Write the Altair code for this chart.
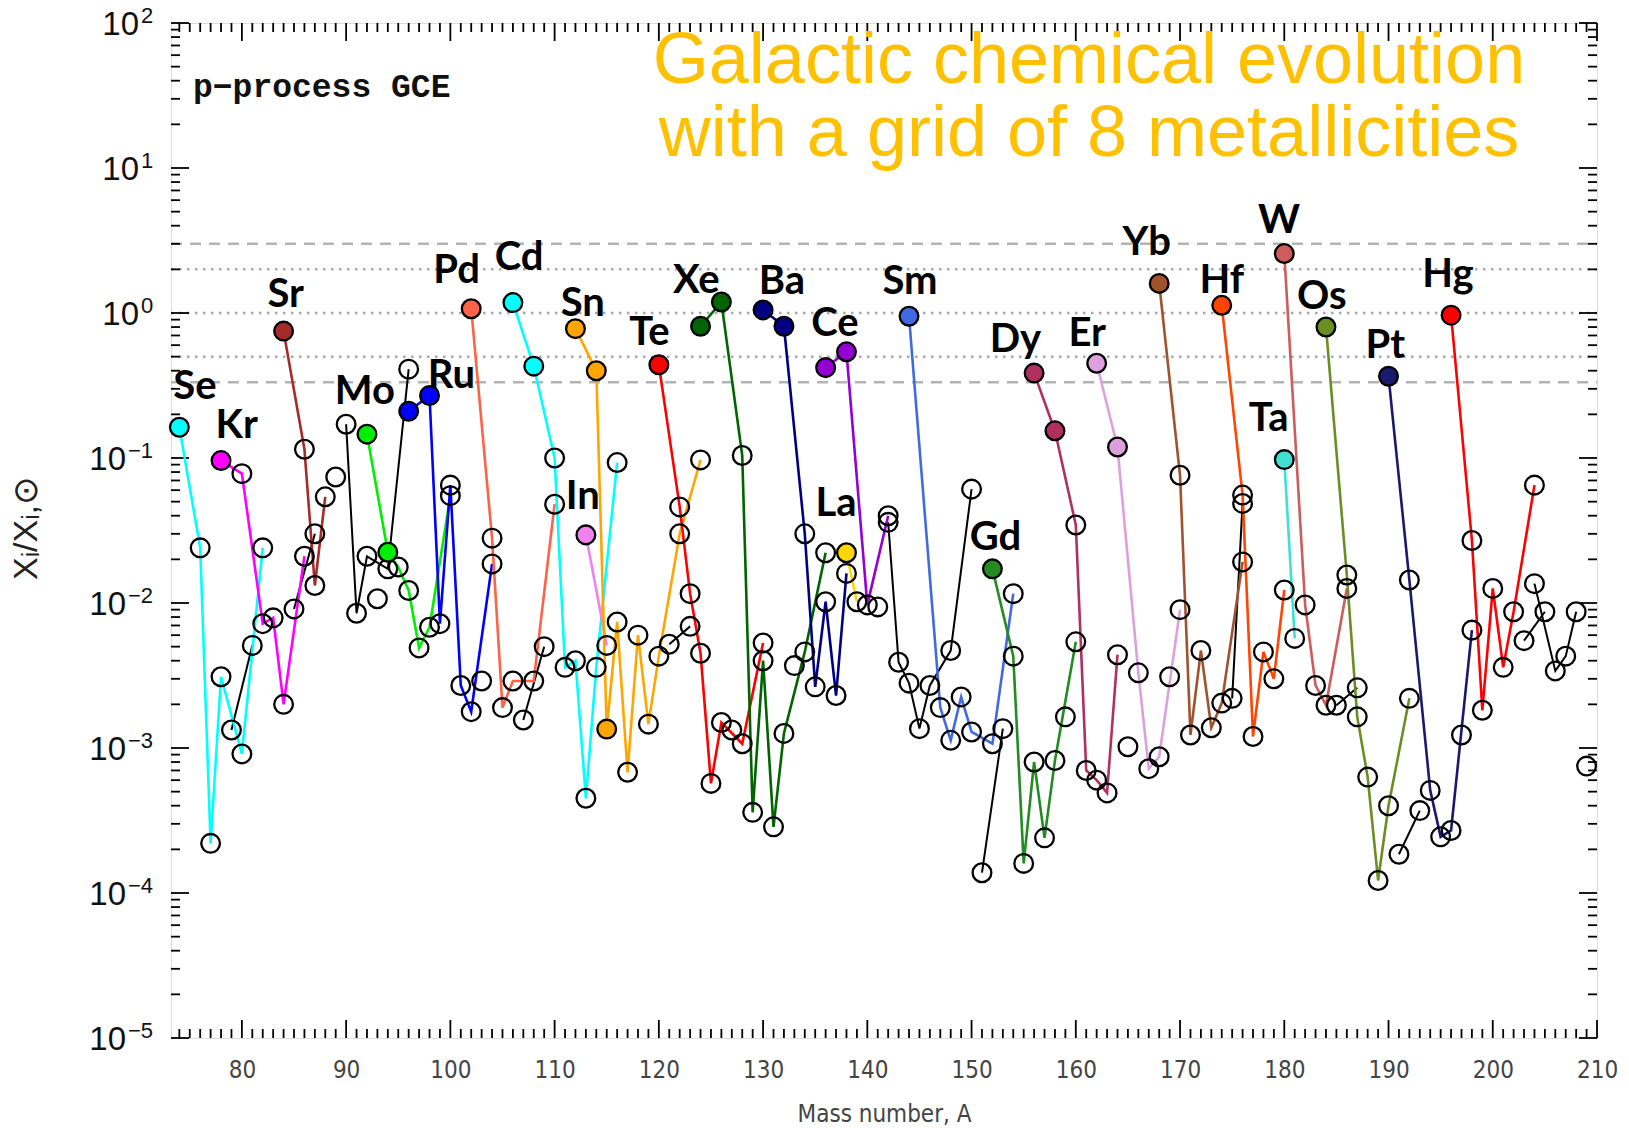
import altair as alt
import pandas as pd

# ---- isotopic ratios X_i / X_i,sun versus mass number, one list per element ----
Se = [(74, 0.163), (76, 0.024), (77, 0.00022), (78, 0.0031), (80, 0.00091), (82, 0.024)]
Br = [(79, 0.00133), (81, 0.0051)]
Kr = [(78, 0.096), (80, 0.078), (82, 0.0072), (83, 0.0079), (84, 0.0020), (86, 0.021)]
Rb = [(85, 0.0091), (87, 0.030)]
Sr = [(84, 0.75), (86, 0.115), (87, 0.0132), (88, 0.054)]
Y = [(89, 0.074)]
Zr = [(90, 0.171), (91, 0.0085), (92, 0.021), (94, 0.0172), (96, 0.41)]
Nb = [(93, 0.0107)]
Mo = [(92, 0.146), (94, 0.0224), (95, 0.0177), (96, 0.0122), (97, 0.0049), (98, 0.0068), (100, 0.055)]
Ru = [(96, 0.21), (98, 0.27), (99, 0.0072), (100, 0.065), (101, 0.0027), (102, 0.00178), (104, 0.0186)]
Rh = [(103, 0.0029)]
Pd = [(102, 1.07), (104, 0.028), (105, 0.0019), (106, 0.0029), (108, 0.0029), (110, 0.048)]
Ag = [(107, 0.00156), (109, 0.0050)]
Cd = [(106, 1.18), (108, 0.43), (110, 0.10), (111, 0.0036), (112, 0.0040), (113, 0.00045), (114, 0.0036), (116, 0.093)]
In = [(113, 0.0295), (115, 0.0051)]
Sn = [(112, 0.78), (114, 0.40), (115, 0.00135), (116, 0.0074), (117, 0.00068), (118, 0.0060), (119, 0.00146),
      (120, 0.0043), (122, 0.030), (124, 0.097)]
Sb = [(121, 0.0052), (123, 0.0069)]
Te = [(120, 0.44), (122, 0.046), (123, 0.0116), (124, 0.0045), (125, 0.00057), (126, 0.0015), (128, 0.00107), (130, 0.0053)]
I = [(127, 0.00133)]
Xe = [(124, 0.81), (126, 1.19), (128, 0.104), (129, 0.00036), (130, 0.0040), (131, 0.000286), (132, 0.00126),
      (134, 0.0046), (136, 0.0222)]
Cs = [(133, 0.0037)]
Ba = [(130, 1.05), (132, 0.81), (134, 0.030), (135, 0.00264), (136, 0.0102), (137, 0.0023), (138, 0.016)]
La = [(138, 0.0222), (139, 0.0102)]
Ce = [(136, 0.42), (138, 0.54), (140, 0.0097), (142, 0.040)]
Pr = [(141, 0.0094)]
Nd = [(142, 0.036), (143, 0.0039), (144, 0.0028), (145, 0.00136), (146, 0.0027), (148, 0.0047), (150, 0.061)]
Sm = [(144, 0.95), (147, 0.0019), (148, 0.00113), (149, 0.00225), (150, 0.00129), (152, 0.00107), (154, 0.0116)]
Eu = [(151, 0.000138), (153, 0.00136)]
Gd = [(152, 0.0172), (154, 0.0043), (155, 0.00016), (156, 0.0008), (157, 0.00024), (158, 0.00082), (160, 0.0054)]
Tb = [(159, 0.00164)]
Dy = [(156, 0.385), (158, 0.154), (160, 0.0345), (161, 0.0007), (162, 0.0006), (163, 0.00049), (164, 0.0044)]
Ho = [(165, 0.00102)]
Er = [(162, 0.45), (164, 0.119), (166, 0.0033), (167, 0.00072), (168, 0.00087), (170, 0.0090)]
Tm = [(169, 0.0031)]
Yb = [(168, 1.6), (170, 0.076), (171, 0.00123), (172, 0.0047), (173, 0.00138), (174, 0.00204), (176, 0.0192)]
Lu = [(175, 0.0022), (176, 0.0486)]
Hf = [(174, 1.13), (176, 0.0555), (177, 0.0012), (178, 0.0046), (179, 0.0030), (180, 0.0123)]
Ta = [(180, 0.0975), (181, 0.0057)]
W = [(180, 2.57), (182, 0.0097), (183, 0.0027), (184, 0.00197), (186, 0.0126)]
Re = [(185, 0.00197), (187, 0.0026)]
Os = [(184, 0.80), (186, 0.0156), (187, 0.00164), (188, 0.00063), (189, 0.000122), (190, 0.00040), (192, 0.0022)]
Ir = [(191, 0.000185), (193, 0.00037)]
Pt = [(190, 0.366), (192, 0.0144), (194, 0.00051), (195, 0.000244), (196, 0.00027), (198, 0.0065)]
Au = [(197, 0.00123)]
Hg = [(196, 0.966), (198, 0.027), (199, 0.00182), (200, 0.0126), (201, 0.0036), (202, 0.0087), (204, 0.065)]
Tl = [(203, 0.0055), (205, 0.0087)]
Pb = [(204, 0.0136), (206, 0.0034), (207, 0.0043), (208, 0.0087)]
Bi = [(209, 0.00075)]

ELEMENTS = [
    ("Se", Se), ("Br", Br), ("Kr", Kr), ("Rb", Rb), ("Sr", Sr), ("Y", Y), ("Zr", Zr), ("Nb", Nb),
    ("Mo", Mo), ("Ru", Ru), ("Rh", Rh), ("Pd", Pd), ("Ag", Ag), ("Cd", Cd), ("In", In), ("Sn", Sn),
    ("Sb", Sb), ("Te", Te), ("I", I), ("Xe", Xe), ("Cs", Cs), ("Ba", Ba), ("La", La), ("Ce", Ce),
    ("Pr", Pr), ("Nd", Nd), ("Sm", Sm), ("Eu", Eu), ("Gd", Gd), ("Tb", Tb), ("Dy", Dy), ("Ho", Ho),
    ("Er", Er), ("Tm", Tm), ("Yb", Yb), ("Lu", Lu), ("Hf", Hf), ("Ta", Ta), ("W", W), ("Re", Re),
    ("Os", Os), ("Ir", Ir), ("Pt", Pt), ("Au", Au), ("Hg", Hg), ("Tl", Tl), ("Pb", Pb), ("Bi", Bi),
]

# p-only isotopes (filled symbols) and the colour of their element
P_NUCLEI = {
    "Se": [74], "Kr": [78], "Sr": [84], "Mo": [92, 94], "Ru": [96, 98], "Pd": [102], "Cd": [106, 108],
    "In": [113], "Sn": [112, 114, 115], "Te": [120], "Xe": [124, 126], "Ba": [130, 132], "La": [138],
    "Ce": [136, 138], "Sm": [144], "Gd": [152], "Dy": [156, 158], "Er": [162, 164], "Yb": [168],
    "Hf": [174], "Ta": [180], "W": [180], "Os": [184], "Pt": [190], "Hg": [196],
}
COLORS = {
    "Se": "#00ffff", "Kr": "#ff00ff", "Sr": "#a52a2a", "Mo": "#00ee00", "Ru": "#0000ff", "Pd": "#ff6347",
    "Cd": "#00ffff", "In": "#ee82ee", "Sn": "#ffa500", "Te": "#ff0000", "Xe": "#006400", "Ba": "#000080",
    "La": "#ffd700", "Ce": "#9400d3", "Sm": "#4169e1", "Gd": "#228b22", "Dy": "#b03060", "Er": "#dda0dd",
    "Yb": "#a0522d", "Hf": "#ff4500", "Ta": "#40e0d0", "W": "#cd5c5c", "Os": "#6b8e23", "Pt": "#191970",
    "Hg": "#ff0000",
}

# element labels: name, mass number and ratio where the label sits
LABEL_EL = ["Se", "Kr", "Sr", "Mo", "Ru", "Pd", "Cd", "Sn", "In", "Te", "Xe", "Ba", "Ce", "La", "Sm",
            "Gd", "Dy", "Er", "Yb", "Hf", "W", "Ta", "Os", "Pt", "Hg"]
LABEL_A = [75.5, 79.5, 84.2, 91.8, 100.1, 100.6, 106.6, 112.7, 112.7, 119.1, 123.6, 131.8, 136.9, 137.0,
           144.1, 152.3, 154.2, 161.1, 166.8, 174.0, 179.5, 178.5, 183.6, 189.7, 195.7]
LABEL_Y = [0.31, 0.166, 1.33, 0.286, 0.366, 1.94, 2.4, 1.15, 0.054, 0.73, 1.67, 1.64, 0.84, 0.048,
           1.64, 0.028, 0.65, 0.72, 3.03, 1.67, 4.28, 0.187, 1.28, 0.59, 1.82]

DASHED_LEVELS = [3.0, 1.0 / 3.0]
DOTTED_LEVELS = [2.0, 1.0, 0.5]

X_TICKS = list(range(80, 211, 10))
DECADES = [1e-5, 1e-4, 1e-3, 1e-2, 1e-1, 1e0, 1e1, 1e2]
DECADE_EXP = ["\u22125", "\u22124", "\u22123", "\u22122", "\u22121", "0", "1", "2"]

W_PLOT, H_PLOT = 1426, 1015
NARROW = "DejaVu Sans Condensed, Roboto, Liberation Sans, sans-serif"

# ---- tables ----
rows = []
for name, iso in ELEMENTS:
    for a, r in iso:
        rows.append({"el": name, "A": a, "X": r, "p": a in P_NUCLEI.get(name, [])})
df = pd.DataFrame(rows)
multi = df.groupby("el")["A"].transform("count") > 1
lines_black = df[multi & ~df["el"].isin(list(COLORS))]
lines_col = df[multi & df["el"].isin(list(COLORS))]
open_pts = df[~df["p"]]
filled_pts = df[df["p"]]

labels = pd.DataFrame({"el": LABEL_EL, "A": LABEL_A, "X": LABEL_Y})
dec = pd.DataFrame({"X": DECADES, "e": DECADE_EXP})
dec_neg = dec[dec["X"] < 1]
dec_pos = dec[dec["X"] >= 1]

x_minor = pd.DataFrame({"A": [a for a in range(74, 210) if a % 10]})
x_major = pd.DataFrame({"A": X_TICKS})
y_major = pd.DataFrame({"X": DECADES})
y_minor = pd.DataFrame({"X": [m * 10.0 ** k for k in range(-5, 2) for m in range(2, 10)]})

cdom = list(COLORS)
crng = [COLORS[k] for k in cdom]

xs = alt.Scale(domain=[73.2, 210], nice=False, zero=False)
ys = alt.Scale(type="log", domain=[1e-5, 1e2], nice=False)

X = alt.X("A:Q", scale=xs, axis=alt.Axis(
    values=X_TICKS, ticks=False, domain=False, grid=False, labelFlush=False, labelOverlap=False,
    labelFont=NARROW, labelFontSize=24, labelColor="#444444", labelPadding=20,
    title="Mass number, A", titleFont=NARROW, titleFontSize=24, titleFontWeight="normal",
    titleColor="#444444", titleY=76, titleBaseline="middle"))
Yenc = alt.Y("X:Q", scale=ys, axis=alt.Axis(
    labels=False, ticks=False, domain=False, grid=False,
    title="X\u1d62/X\u1d62,\u2299", titleFont="Liberation Sans", titleFontSize=34, titleFontWeight="normal",
    titleColor="#222222", titleX=-145, titleY=505, titleBaseline="middle", titleAngle=270))

base_x = alt.X("A:Q", scale=xs)
base_y = alt.Y("X:Q", scale=ys)

# reference levels
dashed = alt.Chart(pd.DataFrame({"X": DASHED_LEVELS})).mark_rule(
    color="#b3b3b3", strokeWidth=2.5, strokeDash=[11, 8]).encode(
    y=base_y, x=alt.value(0), x2=alt.value(W_PLOT))
dotted = alt.Chart(pd.DataFrame({"X": DOTTED_LEVELS})).mark_rule(
    color="#a8a8a8", strokeWidth=2.5, strokeDash=[2.5, 5.5]).encode(
    y=base_y, x=alt.value(0), x2=alt.value(W_PLOT))

# inward ticks on all four sides
tk = dict(color="black", strokeWidth=1.8)
xt_bot_min = alt.Chart(x_minor).mark_rule(**tk).encode(x=base_x, y=alt.value(H_PLOT), y2=alt.value(H_PLOT - 9))
xt_top_min = alt.Chart(x_minor).mark_rule(**tk).encode(x=base_x, y=alt.value(0), y2=alt.value(9))
xt_bot_maj = alt.Chart(x_major).mark_rule(**tk).encode(x=base_x, y=alt.value(H_PLOT), y2=alt.value(H_PLOT - 18))
xt_top_maj = alt.Chart(x_major).mark_rule(**tk).encode(x=base_x, y=alt.value(0), y2=alt.value(18))
yt_l_min = alt.Chart(y_minor).mark_rule(**tk).encode(y=base_y, x=alt.value(0), x2=alt.value(9))
yt_r_min = alt.Chart(y_minor).mark_rule(**tk).encode(y=base_y, x=alt.value(W_PLOT), x2=alt.value(W_PLOT - 9))
yt_l_maj = alt.Chart(y_major).mark_rule(**tk).encode(y=base_y, x=alt.value(0), x2=alt.value(18))
yt_r_maj = alt.Chart(y_major).mark_rule(**tk).encode(y=base_y, x=alt.value(W_PLOT), x2=alt.value(W_PLOT - 18))

# y tick labels as 10 with a raised exponent
lab = dict(font="Liberation Sans", color="#111111", baseline="middle")
ten_neg = alt.Chart(dec_neg).mark_text(align="right", fontSize=33, text="10", dy=2, **lab).encode(
    y=base_y, x=alt.value(-45))
ten_pos = alt.Chart(dec_pos).mark_text(align="right", fontSize=33, text="10", dy=2, **lab).encode(
    y=base_y, x=alt.value(-32))
exp_neg = alt.Chart(dec_neg).mark_text(align="left", fontSize=22, dy=-7, **lab).encode(
    y=base_y, x=alt.value(-43), text="e:N")
exp_pos = alt.Chart(dec_pos).mark_text(align="left", fontSize=22, dy=-7, **lab).encode(
    y=base_y, x=alt.value(-30), text="e:N")

# isotope chains
l_black = alt.Chart(lines_black).mark_line(color="black", strokeWidth=2).encode(
    x=X, y=Yenc, detail="el:N", order="A:Q")
l_col = alt.Chart(lines_col).mark_line(strokeWidth=2.6).encode(
    x=base_x, y=base_y, detail="el:N", order="A:Q",
    color=alt.Color("el:N", scale=alt.Scale(domain=cdom, range=crng), legend=None))

pts_open = alt.Chart(open_pts).mark_point(
    shape="circle", filled=False, size=350, stroke="black", strokeWidth=2.3, opacity=1).encode(
    x=base_x, y=base_y)
pts_fill = alt.Chart(filled_pts).mark_point(
    shape="circle", filled=True, size=350, stroke="black", strokeWidth=2.3, opacity=1).encode(
    x=base_x, y=base_y,
    fill=alt.Fill("el:N", scale=alt.Scale(domain=cdom, range=crng), legend=None))

el_text = alt.Chart(labels).mark_text(
    font="Lato", fontWeight="bold", fontSize=40, align="center", baseline="middle", color="black").encode(
    x=base_x, y=base_y, text="el:N")

tag = alt.Chart(pd.DataFrame({"t": ["p\u2212process GCE"]})).mark_text(
    font="Liberation Mono", fontWeight="bold", fontSize=33, align="left", baseline="alphabetic",
    color="#111111").encode(x=alt.value(22), y=alt.value(74), text="t:N")

head = pd.DataFrame({"t": ["Galactic chemical evolution", "with a grid of 8 metallicities"],
                     "row": [0, 1]})
head1 = alt.Chart(head[head["row"] == 0]).mark_text(
    font="Liberation Sans", fontSize=72, align="center", baseline="alphabetic", color="#ffc000").encode(
    x=alt.value(918), y=alt.value(60), text="t:N")
head2 = alt.Chart(head[head["row"] == 1]).mark_text(
    font="Liberation Sans", fontSize=72, align="center", baseline="alphabetic", color="#ffc000").encode(
    x=alt.value(918), y=alt.value(133), text="t:N")

chart = alt.layer(
    dashed, dotted,
    xt_bot_min, xt_top_min, xt_bot_maj, xt_top_maj, yt_l_min, yt_r_min, yt_l_maj, yt_r_maj,
    ten_neg, ten_pos, exp_neg, exp_pos,
    l_black, l_col, pts_open, pts_fill, el_text, tag, head1, head2,
).properties(
    width=W_PLOT, height=H_PLOT,
    padding={"left": 171, "top": 23, "right": 32, "bottom": 90},
    autosize=alt.AutoSizeParams(type="none"),
).configure_view(
    stroke="black", strokeWidth=2
).configure(background="white")

chart.save("out.html", embed_options={"renderer": "svg", "actions": False})
